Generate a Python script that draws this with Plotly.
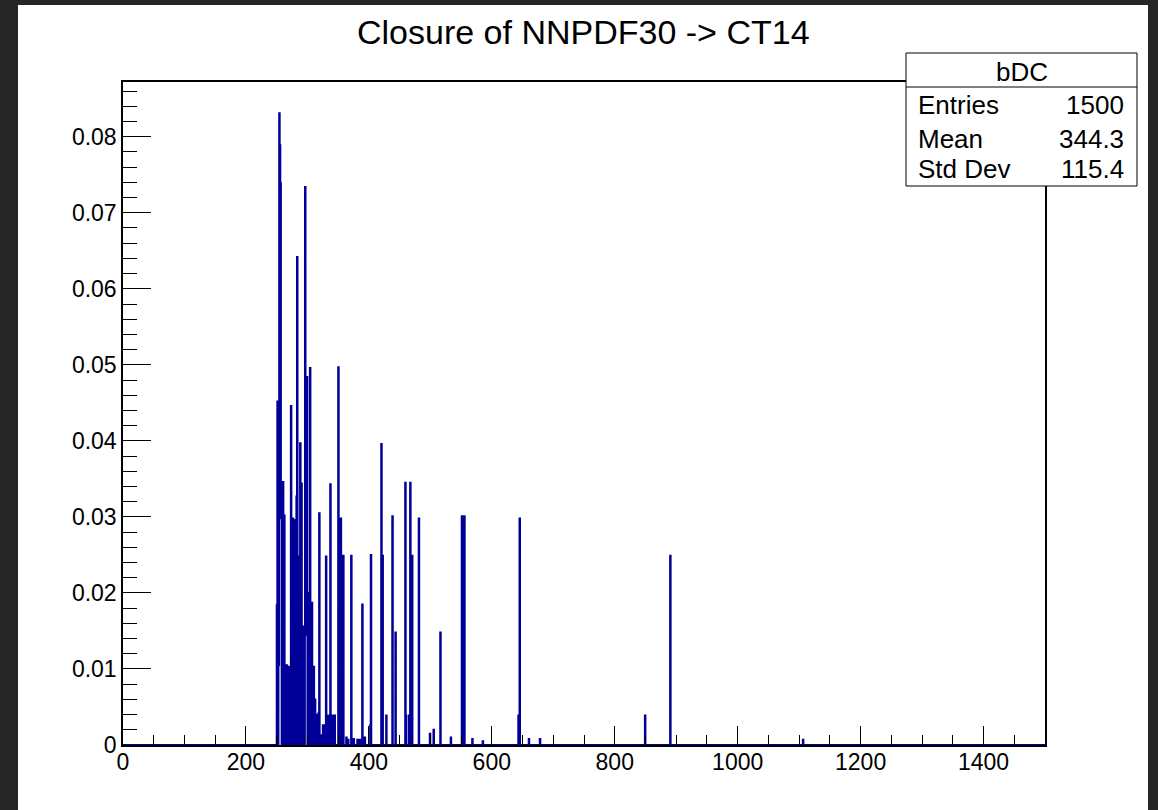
import numpy as np
import plotly.graph_objects as go

# ---------------- data ----------------
title_text = "Closure of NNPDF30 -> CT14"
hist_name = "bDC"
stat_labels = ["Entries", "Mean", "Std Dev"]
stat_values = ["1500", "344.3", "115.4"]

# non-empty bins (lower edge of 1-unit bins) and their contents
bin_lows = [250, 251, 253, 254, 255, 256, 257, 259, 260, 262, 264, 266, 268, 270,
            272, 273, 275, 276, 278, 279, 281, 282, 283, 285, 286, 288, 290, 292,
            294, 296, 297, 298, 299, 301, 302, 304, 306, 307, 309, 310, 312, 314,
            316, 318, 319, 322, 325, 327, 330, 334, 337, 340, 342, 344, 350, 354, 358,
            363, 366, 371, 375, 381, 385, 389, 393, 402, 403, 420, 422, 428, 438,
            443, 459, 460, 465, 467, 470, 481, 499, 505, 516, 533, 551, 553, 555,
            568, 585, 643, 645, 660, 678, 849, 890, 1106]
bin_contents = [0.0184, 0.0452, 0.0105, 0.0831, 0.0789, 0.0739, 0.0298, 0.0125, 0.0346, 0.0302,
                0.0080, 0.0105, 0.0060, 0.0103, 0.0035, 0.0446, 0.0090, 0.0298, 0.0150, 0.0296,
                0.0115, 0.0327, 0.0642, 0.0120, 0.0248, 0.0397, 0.0344, 0.0156, 0.0130, 0.0734,
                0.0338, 0.0145, 0.0484, 0.0037, 0.0200, 0.0496, 0.0110, 0.0187, 0.0070, 0.0103,
                0.0060, 0.0030, 0.0040, 0.0042, 0.0305, 0.0013, 0.0026, 0.0026, 0.0248, 0.0039,
                0.0343, 0.0039, 0.0039, 0.0039, 0.0497, 0.0298, 0.0249,
                0.0010, 0.0007, 0.0249, 0.0008, 0.0007, 0.0007, 0.0185, 0.0010, 0.0026, 0.0250,
                0.0396, 0.0249, 0.0039, 0.0301, 0.0148, 0.0345, 0.0039, 0.0039, 0.0345, 0.0249,
                0.0298, 0.0015, 0.0020, 0.0148, 0.0010, 0.0301, 0.0301, 0.0301, 0.0008, 0.0005,
                0.0039, 0.0298, 0.0008, 0.0008, 0.0039, 0.0249, 0.0007]

x_min, x_max, n_bins = 0, 1500, 1500
y_max = 0.0872

x_tick_vals = [0, 200, 400, 600, 800, 1000, 1200, 1400]
x_tick_text = ["0", "200", "400", "600", "800", "1000", "1200", "1400"]
y_tick_vals = [0, 0.01, 0.02, 0.03, 0.04, 0.05, 0.06, 0.07, 0.08]
y_tick_text = ["0", "0.01", "0.02", "0.03", "0.04", "0.05", "0.06", "0.07", "0.08"]

# ---------------- build histogram ----------------
edges = np.linspace(x_min, x_max, n_bins + 1)
counts = np.zeros(n_bins)
for lo, c in zip(bin_lows, bin_contents):
    counts[int(lo)] = c
step_y = np.append(counts, counts[-1])

W, H = 1158, 810
L, R, T, B = 123, 1045, 82, 745  # frame in pixels
pw, ph = R - L, B - T


def px(x):
    return (x - L) / pw


def py(y):
    return (B - y) / ph


FONT = "Liberation Sans, Arial, Helvetica, sans-serif"

fig = go.Figure()
fig.add_trace(go.Scatter(
    x=edges, y=step_y, mode="lines",
    line=dict(color="#000099", width=1.9, shape="hv", simplify=False),
    hoverinfo="skip", showlegend=False,
))

shapes = [
    # white canvas
    dict(type="rect", xref="paper", yref="paper", layer="below",
         x0=px(18), x1=px(1148), y0=py(830), y1=py(5),
         fillcolor="white", line=dict(width=0)),
    # stats box
    dict(type="rect", xref="paper", yref="paper", layer="above",
         x0=px(906), x1=px(1137), y0=py(186), y1=py(53),
         fillcolor="white", line=dict(color="black", width=1)),
    dict(type="line", xref="paper", yref="paper", layer="above",
         x0=px(906), x1=px(1137), y0=py(87), y1=py(87),
         line=dict(color="black", width=1)),
]

annotations = [
    dict(text=title_text, xref="paper", yref="paper", x=px(583), y=py(32),
         xanchor="center", yanchor="middle", showarrow=False,
         font=dict(family=FONT, size=34, color="black")),
    dict(text=hist_name, xref="paper", yref="paper", x=px(1022), y=py(72),
         xanchor="center", yanchor="middle", showarrow=False,
         font=dict(family=FONT, size=26, color="black")),
]
row_y = [105, 139, 169]
for lab, val, yy in zip(stat_labels, stat_values, row_y):
    annotations.append(dict(text=lab, xref="paper", yref="paper", x=px(916), y=py(yy),
                            xanchor="left", yanchor="middle", showarrow=False,
                            font=dict(family=FONT, size=26, color="black")))
    annotations.append(dict(text=val, xref="paper", yref="paper", x=px(1126), y=py(yy),
                            xanchor="right", yanchor="middle", showarrow=False,
                            font=dict(family=FONT, size=26, color="black")))

fig.update_layout(
    width=W, height=H,
    margin=dict(l=L, r=W - R, t=T, b=H - B, pad=0),
    paper_bgcolor="#262626", plot_bgcolor="white",
    showlegend=False,
    shapes=shapes, annotations=annotations,
    font=dict(family=FONT, color="black"),
)
fig.update_xaxes(
    range=[x_min, x_max], tickmode="array", tickvals=x_tick_vals, ticktext=x_tick_text,
    ticks="inside", ticklen=19, tickwidth=1.2, tickcolor="black",
    minor=dict(ticks="inside", ticklen=10, tickmode="linear", tick0=0, dtick=50,
               tickcolor="black", tickwidth=1.2, showgrid=False),
    showline=True, linecolor="black", linewidth=1.5, mirror=True,
    showgrid=False, zeroline=False, ticklabelstandoff=-4,
    tickfont=dict(family=FONT, size=23, color="black"),
)
fig.update_yaxes(
    range=[0, y_max], tickmode="array", tickvals=y_tick_vals, ticktext=y_tick_text,
    ticks="inside", ticklen=28, tickwidth=1.2, tickcolor="black",
    minor=dict(ticks="inside", ticklen=14, tickmode="linear", tick0=0, dtick=0.002,
               tickcolor="black", tickwidth=1.2, showgrid=False),
    showline=True, linecolor="black", linewidth=1.5, mirror=True,
    showgrid=False, zeroline=False,
    tickfont=dict(family=FONT, size=23, color="black"),
)

fig.write_html("out.html")
